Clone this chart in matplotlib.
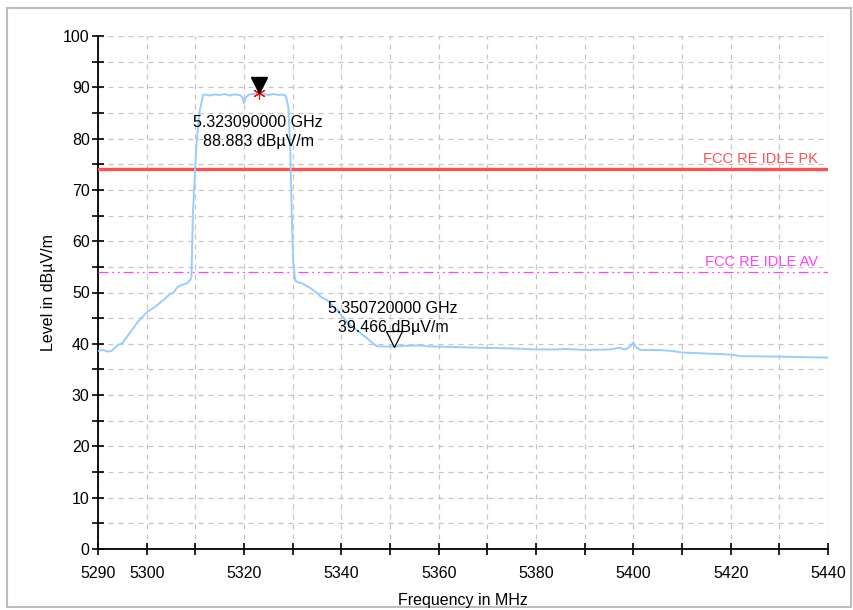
"""
Spectrum plot: radiated emission scan around the 5.3 GHz band edge.

Run:
    python plot.py
"""
import matplotlib
matplotlib.use("Agg")
import matplotlib.pyplot as plt
import matplotlib.transforms as mtransforms
from matplotlib.patches import Rectangle

matplotlib.rcParams.update({
    'font.family': ['Liberation Sans', 'DejaVu Sans'],
    'font.size': 11.5,
    'xtick.labelsize': 11.5, 'ytick.labelsize': 11.5,
    'axes.spines.top': False, 'axes.spines.right': False,
})

# trace (MHz, dBuV/m)
FREQ_MHZ = [5290.0, 5291.0, 5292.0, 5292.8, 5294.1, 5295.0, 5296.2, 5297.2,
            5298.2, 5299.2, 5300.1, 5301.7, 5303.4, 5304.8, 5305.5, 5306.4,
            5307.3, 5308.3, 5308.9, 5309.2, 5309.5, 5310.2, 5310.8, 5311.6,
            5312.0, 5313.0, 5314.0, 5315.0, 5316.0, 5317.0, 5318.0, 5319.0,
            5319.6, 5320.0, 5320.4, 5321.0, 5322.0, 5323.09, 5324.0, 5325.0,
            5326.0, 5327.0, 5328.0, 5328.6, 5329.1, 5329.5, 5329.8, 5330.1,
            5330.5, 5331.0, 5331.9, 5333.6, 5335.0, 5336.0, 5337.1, 5338.1,
            5339.1, 5340.2, 5341.2, 5342.2, 5343.2, 5344.3, 5345.3, 5346.1,
            5346.9, 5347.5, 5350.72, 5353.0, 5356.0, 5358.0, 5362.0, 5366.0,
            5370.0, 5375.0, 5380.0, 5384.0, 5386.0, 5390.0, 5395.0, 5397.0,
            5398.5, 5399.5, 5400.0, 5400.6, 5401.5, 5405.0, 5408.0, 5410.0,
            5415.0, 5420.0, 5422.0, 5430.0, 5435.0, 5440.0]
LEVEL_DB = [38.6, 38.8, 38.5, 38.6, 39.8, 40.1, 41.7, 43.0,
            44.3, 45.3, 46.2, 47.2, 48.5, 49.7, 50.0, 51.1,
            51.5, 51.8, 52.4, 53.0, 65.5, 78.4, 85.0, 88.5,
            88.6, 88.4, 88.6, 88.5, 88.7, 88.4, 88.6, 88.5,
            88.2, 86.9, 88.0, 88.6, 88.7, 88.883, 88.7, 88.5,
            88.7, 88.5, 88.6, 88.3, 86.2, 78.4, 65.5, 56.3,
            52.4, 52.0, 51.8, 50.9, 49.9, 49.0, 48.5, 47.5,
            46.6, 45.4, 44.2, 43.3, 42.7, 41.8, 41.1, 40.4,
            39.8, 39.5, 39.466, 39.6, 39.7, 39.5, 39.4, 39.3,
            39.2, 39.1, 38.9, 38.9, 39.0, 38.8, 38.9, 39.2,
            38.9, 39.6, 40.3, 39.3, 38.8, 38.8, 38.6, 38.3,
            38.1, 37.9, 37.6, 37.5, 37.4, 37.3]

LIMIT_PK = 74.0
LIMIT_AV = 54.0
LIMIT_PK_LABEL = "FCC RE IDLE PK"
LIMIT_AV_LABEL = "FCC RE IDLE AV"

MARKER1 = (5323.09, 88.883, "5.323090000 GHz\n88.883 dBµV/m")
MARKER2 = (5350.72, 39.466, "5.350720000 GHz\n39.466 dBµV/m")

X_TICKS = list(range(5290, 5441, 10))
X_LABELS = ["5290", "5300", "", "5320", "", "5340", "", "5360", "", "5380",
            "", "5400", "", "5420", "", "5440"]

TRACE_COLOR = "#99ccff"
PK_COLOR = "#ff5050"
AV_COLOR = "#ff40ff"


def main():
    fig = plt.figure(figsize=(8.54, 6.10), dpi=100)
    ax = fig.add_axes([98 / 854, 61 / 610, 730 / 854, 513 / 610])

    # grid
    ax.set_xticks(X_TICKS)
    ax.set_xticklabels(X_LABELS)
    ax.set_yticks(range(0, 101, 5))
    ax.set_yticklabels([str(v) if v % 10 == 0 else "" for v in range(0, 101, 5)])
    ax.grid(True, color="#c4c4c4", linestyle=(0, (4, 4)), linewidth=0.9)
    ax.set_axisbelow(True)
    ax.set_xlim(5290, 5440)
    ax.set_ylim(0, 100)

    ax.spines['left'].set_linewidth(1.3)
    ax.spines['bottom'].set_linewidth(1.3)
    ax.tick_params(axis='both', direction='inout', length=8, width=1.2)
    ax.tick_params(axis='x', pad=8)
    ax.tick_params(axis='y', pad=2)

    # limit lines
    ax.axhline(LIMIT_PK, color=PK_COLOR, linewidth=2.4, zorder=3)
    ax.axhline(LIMIT_AV, color=AV_COLOR, linewidth=0.9,
               linestyle=(0, (8, 3, 1.5, 3, 1.5, 3)), zorder=3)
    ax.text(5437.9, LIMIT_PK + 0.6, LIMIT_PK_LABEL, color=PK_COLOR,
            ha="right", va="bottom", fontsize=10.5)
    ax.text(5437.9, LIMIT_AV + 0.6, LIMIT_AV_LABEL, color=AV_COLOR,
            ha="right", va="bottom", fontsize=10.5)

    # trace
    ax.plot(FREQ_MHZ, LEVEL_DB, color=TRACE_COLOR, linewidth=1.4, zorder=4)

    # markers: triangle tip sits on the trace point
    up1 = mtransforms.offset_copy(ax.transData, fig=fig, y=6, units="points")
    ax.plot(MARKER1[0], MARKER1[1], marker="v", markersize=12, color="black",
            transform=up1, zorder=6)
    ax.plot(MARKER1[0], MARKER1[1], marker=(6, 2, 0), markersize=9,
            color="red", markeredgewidth=0.8, zorder=5)
    ax.text(MARKER1[0] - 0.2, 81.3, MARKER1[2], ha="center", va="center",
            linespacing=1.3, zorder=7)

    up2 = mtransforms.offset_copy(ax.transData, fig=fig, y=5.5, units="points")
    ax.plot(MARKER2[0], MARKER2[1], marker="v", markersize=11,
            markerfacecolor="none", markeredgecolor="black",
            markeredgewidth=0.9, transform=up2, zorder=6)
    ax.text(MARKER2[0] - 0.1, 45.0, MARKER2[2], ha="center", va="center",
            linespacing=1.3, zorder=7)

    ax.set_ylabel("Level in dBµV/m")
    ax.yaxis.set_label_coords(-0.058, 0.5)
    fig.text(463 / 854, 1 - 600 / 610, "Frequency in MHz", ha="center",
             va="center", fontsize=11.5)

    # window frame
    fig.patches.append(Rectangle((7 / 854, 1 - 607 / 610), 844 / 854, 599 / 610,
                                 transform=fig.transFigure, fill=False,
                                 edgecolor="#bdbdbd", linewidth=1.5))

    fig.savefig("out.png", dpi=100)
    plt.close(fig)


if __name__ == "__main__":
    main()
